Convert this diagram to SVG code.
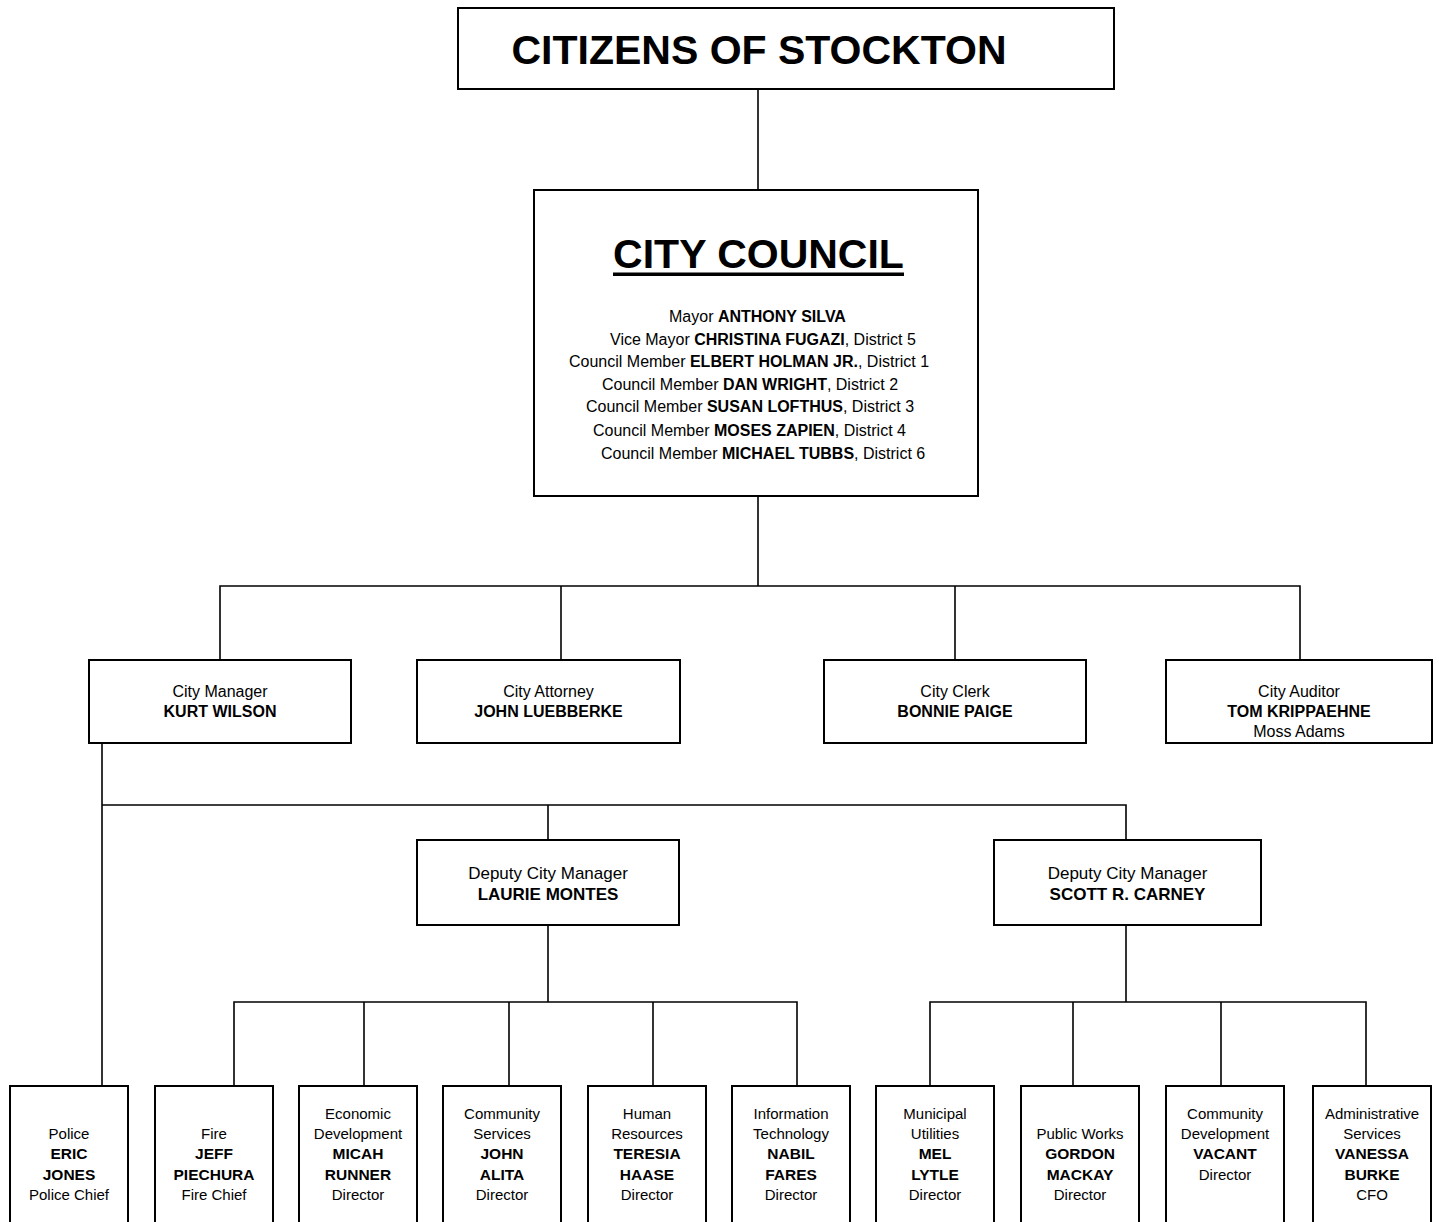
<svg xmlns="http://www.w3.org/2000/svg" width="1439" height="1222" viewBox="0 0 1439 1222">
<style>
text{font-family:"Liberation Sans",Arial,sans-serif;fill:#000}
.box{fill:#fff;stroke:#000;stroke-width:2}
.c{fill:none;stroke:#000;stroke-width:1.6}
.t{font-size:41px;font-weight:bold;text-anchor:middle}
.cl{font-size:16px}
.b{font-weight:bold}
.m{font-size:16px;text-anchor:middle}
.mb{font-size:16px;font-weight:bold;text-anchor:middle}
.d{font-size:17px;text-anchor:middle}
.db{font-size:17px;font-weight:bold;text-anchor:middle}
.s{font-size:15px;text-anchor:middle}
.sb{font-size:15.5px;font-weight:bold;text-anchor:middle}
</style>
<rect width="1439" height="1222" fill="#fff"/>
<g id="connectors">
<line class="c" x1="758" y1="89" x2="758" y2="189"/>
<line class="c" x1="758" y1="496" x2="758" y2="586"/>
<polyline class="c" points="220,660 220,586 1300,586 1300,660"/>
<line class="c" x1="561" y1="586" x2="561" y2="660"/>
<line class="c" x1="955" y1="586" x2="955" y2="660"/>
<line class="c" x1="102" y1="743" x2="102" y2="1085"/>
<polyline class="c" points="102,805 1126,805 1126,840"/>
<line class="c" x1="548" y1="805" x2="548" y2="840"/>
<line class="c" x1="548" y1="925" x2="548" y2="1002"/>
<polyline class="c" points="234,1085 234,1002 797,1002 797,1085"/>
<line class="c" x1="364" y1="1002" x2="364" y2="1085"/>
<line class="c" x1="509" y1="1002" x2="509" y2="1085"/>
<line class="c" x1="653" y1="1002" x2="653" y2="1085"/>
<line class="c" x1="1126" y1="925" x2="1126" y2="1002"/>
<polyline class="c" points="930,1085 930,1002 1366,1002 1366,1085"/>
<line class="c" x1="1073" y1="1002" x2="1073" y2="1085"/>
<line class="c" x1="1221" y1="1002" x2="1221" y2="1085"/>
</g>
<g id="citizens">
<rect class="box" x="458" y="8" width="656" height="81"/>
<text class="t" x="759" y="64">CITIZENS OF STOCKTON</text>
</g>
<g id="council">
<rect class="box" x="534" y="190" width="444" height="306"/>
<text class="t" x="758.5" y="268">CITY COUNCIL</text>
<rect x="613" y="272.5" width="291" height="3.5" fill="#000"/>
<text class="cl" x="669" y="322">Mayor <tspan class="b">ANTHONY SILVA</tspan></text>
<text class="cl" x="610" y="345">Vice Mayor <tspan class="b">CHRISTINA FUGAZI</tspan>, District 5</text>
<text class="cl" x="569" y="367">Council Member <tspan class="b">ELBERT HOLMAN JR.</tspan>, District 1</text>
<text class="cl" x="602" y="390">Council Member <tspan class="b">DAN WRIGHT</tspan>, District 2</text>
<text class="cl" x="586" y="412">Council Member <tspan class="b">SUSAN LOFTHUS</tspan>, District 3</text>
<text class="cl" x="593" y="436">Council Member <tspan class="b">MOSES ZAPIEN</tspan>, District 4</text>
<text class="cl" x="601" y="459">Council Member <tspan class="b">MICHAEL TUBBS</tspan>, District 6</text>
</g>
<g id="city-manager">
<rect class="box" x="89" y="660" width="262" height="83"/>
<text class="m" x="220" y="697">City Manager</text>
<text class="mb" x="220" y="717">KURT WILSON</text>
</g>
<g id="city-attorney">
<rect class="box" x="417" y="660" width="263" height="83"/>
<text class="m" x="548.5" y="697">City Attorney</text>
<text class="mb" x="548.5" y="717">JOHN LUEBBERKE</text>
</g>
<g id="city-clerk">
<rect class="box" x="824" y="660" width="262" height="83"/>
<text class="m" x="955" y="697">City Clerk</text>
<text class="mb" x="955" y="717">BONNIE PAIGE</text>
</g>
<g id="city-auditor">
<rect class="box" x="1166" y="660" width="266" height="83"/>
<text class="m" x="1299" y="697">City Auditor</text>
<text class="mb" x="1299" y="717">TOM KRIPPAEHNE</text>
<text class="m" x="1299" y="737">Moss Adams</text>
</g>
<g id="deputy-montes">
<rect class="box" x="417" y="840" width="262" height="85"/>
<text class="d" x="548" y="879">Deputy City Manager</text>
<text class="db" x="548" y="900">LAURIE MONTES</text>
</g>
<g id="deputy-carney">
<rect class="box" x="994" y="840" width="267" height="85"/>
<text class="d" x="1127.5" y="879">Deputy City Manager</text>
<text class="db" x="1127.5" y="900">SCOTT R. CARNEY</text>
</g>
<g id="police">
<rect class="box" x="10" y="1086" width="118" height="160"/>
<text class="s" x="69" y="1139">Police</text>
<text class="sb" x="69" y="1159">ERIC</text>
<text class="sb" x="69" y="1180">JONES</text>
<text class="s" x="69" y="1200">Police Chief</text>
</g>
<g id="fire">
<rect class="box" x="155" y="1086" width="118" height="160"/>
<text class="s" x="214" y="1139">Fire</text>
<text class="sb" x="214" y="1159">JEFF</text>
<text class="sb" x="214" y="1180">PIECHURA</text>
<text class="s" x="214" y="1200">Fire Chief</text>
</g>
<g id="economic-development">
<rect class="box" x="299" y="1086" width="118" height="160"/>
<text class="s" x="358" y="1119">Economic</text>
<text class="s" x="358" y="1139">Development</text>
<text class="sb" x="358" y="1159">MICAH</text>
<text class="sb" x="358" y="1180">RUNNER</text>
<text class="s" x="358" y="1200">Director</text>
</g>
<g id="community-services">
<rect class="box" x="443" y="1086" width="118" height="160"/>
<text class="s" x="502" y="1119">Community</text>
<text class="s" x="502" y="1139">Services</text>
<text class="sb" x="502" y="1159">JOHN</text>
<text class="sb" x="502" y="1180">ALITA</text>
<text class="s" x="502" y="1200">Director</text>
</g>
<g id="human-resources">
<rect class="box" x="588" y="1086" width="118" height="160"/>
<text class="s" x="647" y="1119">Human</text>
<text class="s" x="647" y="1139">Resources</text>
<text class="sb" x="647" y="1159">TERESIA</text>
<text class="sb" x="647" y="1180">HAASE</text>
<text class="s" x="647" y="1200">Director</text>
</g>
<g id="information-technology">
<rect class="box" x="732" y="1086" width="118" height="160"/>
<text class="s" x="791" y="1119">Information</text>
<text class="s" x="791" y="1139">Technology</text>
<text class="sb" x="791" y="1159">NABIL</text>
<text class="sb" x="791" y="1180">FARES</text>
<text class="s" x="791" y="1200">Director</text>
</g>
<g id="municipal-utilities">
<rect class="box" x="876" y="1086" width="118" height="160"/>
<text class="s" x="935" y="1119">Municipal</text>
<text class="s" x="935" y="1139">Utilities</text>
<text class="sb" x="935" y="1159">MEL</text>
<text class="sb" x="935" y="1180">LYTLE</text>
<text class="s" x="935" y="1200">Director</text>
</g>
<g id="public-works">
<rect class="box" x="1021" y="1086" width="118" height="160"/>
<text class="s" x="1080" y="1139">Public Works</text>
<text class="sb" x="1080" y="1159">GORDON</text>
<text class="sb" x="1080" y="1180">MACKAY</text>
<text class="s" x="1080" y="1200">Director</text>
</g>
<g id="community-development">
<rect class="box" x="1166" y="1086" width="118" height="160"/>
<text class="s" x="1225" y="1119">Community</text>
<text class="s" x="1225" y="1139">Development</text>
<text class="sb" x="1225" y="1159">VACANT</text>
<text class="s" x="1225" y="1180">Director</text>
</g>
<g id="administrative-services">
<rect class="box" x="1313" y="1086" width="118" height="160"/>
<text class="s" x="1372" y="1119">Administrative</text>
<text class="s" x="1372" y="1139">Services</text>
<text class="sb" x="1372" y="1159">VANESSA</text>
<text class="sb" x="1372" y="1180">BURKE</text>
<text class="s" x="1372" y="1200">CFO</text>
</g>
</svg>
